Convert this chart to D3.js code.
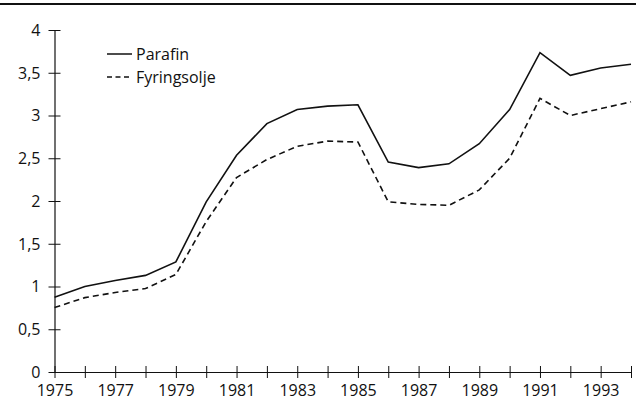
<!DOCTYPE html>
<html>
<head>
<meta charset="utf-8">
<script src="https://cdn.jsdelivr.net/npm/d3@7"></script>
<style>
  html, body { margin: 0; padding: 0; background: #fff; }
  svg { display: block; }
  text { font-family: "Open Sans", "Noto Sans", sans-serif; fill: #111; }
</style>
</head>
<body>
<svg id="chart" width="636" height="413"></svg>
<script>
// Price series, 1975-1994
const years = d3.range(1975, 1995)
const parafin = [0.875, 1.0, 1.07, 1.13, 1.287, 1.99, 2.535, 2.905, 3.07, 3.11, 3.125,
  2.455, 2.39, 2.435, 2.67, 3.07, 3.735, 3.47, 3.555, 3.6]
const fyringsolje = [0.754, 0.87, 0.93, 0.976, 1.14, 1.76, 2.275, 2.485, 2.64, 2.70, 2.69,
  1.99, 1.96, 1.95, 2.13, 2.50, 3.20, 3.0, 3.08, 3.16]
const yTicks = [0, 0.5, 1, 1.5, 2, 2.5, 3, 3.5, 4]
const xTicks = [1975, 1977, 1979, 1981, 1983, 1985, 1987, 1989, 1991, 1993]
const seriesNames = ['Parafin', 'Fyringsolje']

const width = 636
const height = 413
const margin = { top: 30, right: 5, bottom: 41, left: 54.5 }

const svg = d3.select('#chart')

// Rule at top
svg.append('line')
  .attr('x1', 0).attr('x2', width)
  .attr('y1', 4).attr('y2', 4)
  .attr('stroke', '#111')
  .attr('stroke-width', 2.2)

const x = d3.scaleLinear()
  .domain([1975, 1994])
  .range([margin.left, width - margin.right])

const y = d3.scaleLinear()
  .domain([0, 4])
  .range([height - margin.bottom, margin.top])

const fmt = d => String(d).replace('.', ',')

// Y axis: ticks crossing the line
const yAxis = svg.append('g')
  .attr('transform', `translate(${margin.left},0)`)
  .call(d3.axisLeft(y).tickValues(yTicks).tickSize(6).tickSizeOuter(0).tickFormat(fmt))
yAxis.select('.domain').attr('stroke', '#111').attr('stroke-width', 1.2)
yAxis.selectAll('.tick line').attr('x2', 6).attr('x1', -6).attr('stroke', '#111')
yAxis.selectAll('.tick text')
  .attr('x', -14)
  .attr('dy', '0.34em')
  .style('font-size', '16px')
  .style('font-family', '"Open Sans", sans-serif')

// X axis
const xAxis = svg.append('g')
  .attr('transform', `translate(0,${height - margin.bottom})`)
  .call(d3.axisBottom(x).tickValues(years).tickSize(6).tickSizeOuter(0).tickFormat(d => xTicks.includes(d) ? d : ''))
xAxis.select('.domain').attr('stroke', '#111').attr('stroke-width', 1.2)
xAxis.selectAll('.tick line').attr('y1', -6).attr('y2', 6).attr('stroke', '#111')
xAxis.selectAll('.tick text')
  .attr('y', 12.5)
  .attr('dy', '0.71em')
  .style('font-size', '16px')
  .style('font-family', '"Open Sans", sans-serif')

// Lines
const line = d3.line()
  .x((d, i) => x(years[i]))
  .y(d => y(d))

svg.append('path')
  .datum(parafin)
  .attr('fill', 'none')
  .attr('stroke', '#111')
  .attr('stroke-width', 1.6)
  .attr('d', line)

svg.append('path')
  .datum(fyringsolje)
  .attr('fill', 'none')
  .attr('stroke', '#111')
  .attr('stroke-width', 1.6)
  .attr('stroke-dasharray', '6,4')
  .attr('d', line)

// Legend
const legend = svg.append('g').attr('transform', 'translate(107,54)')
seriesNames.forEach((name, i) => {
  const g = legend.append('g').attr('transform', `translate(0,${i * 23})`)
  g.append('line')
    .attr('x1', 0).attr('x2', 25)
    .attr('stroke', '#111')
    .attr('stroke-width', 1.5)
    .attr('stroke-dasharray', i === 1 ? '5,3.5' : null)
  g.append('text')
    .attr('x', 29)
    .attr('y', 5.5)
    .style('font-size', '16px')
    .text(name)
})
</script>
</body>
</html>
